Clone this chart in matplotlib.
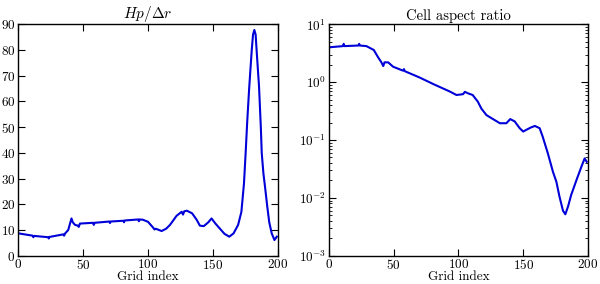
import numpy as np
import matplotlib
matplotlib.use("Agg")
import matplotlib.pyplot as plt

plt.rcParams["font.family"] = "cmr10"
plt.rcParams["mathtext.fontset"] = "cm"
plt.rcParams["axes.formatter.use_mathtext"] = True
plt.rcParams["font.size"] = 9.5

# Hp / dr versus grid index
hp_x = [0, 11, 11.6, 12.2, 23, 23.5, 24, 34.7, 35.3, 36, 38.5, 41, 42, 43.7, 46, 46.6, 47.5, 57.6,
        58.2, 58.8, 70.2, 70.7, 71.2, 81, 81.5, 82, 92.5, 93, 93.5, 96, 100, 104, 105, 106, 110.5,
        114, 117, 122, 126, 127, 128, 130, 134, 137.5, 140, 143, 146.5, 149, 152, 155.5, 159, 162.7,
        166, 169.5, 172, 174, 175.3, 176.5, 178, 180, 181, 182, 183, 184, 185.6, 187, 187.7, 189,
        190.2, 192, 193.5, 195.4, 197.5, 199.3]
hp_y = [8.7, 7.8, 7.2, 7.7, 7.2, 6.7, 7.3, 8.3, 7.8, 8.6, 10, 14.5, 13.0, 12.0, 11.7, 11.2, 12.5, 12.8,
        12.0, 12.8, 13.3, 12.7, 13.3, 13.6, 13.0, 13.7, 14.1, 13.4, 14.1, 14.0, 13.2, 10.9, 10.2, 10.5, 9.6,
        10.5, 12.0, 15.5, 17.1, 16.0, 17.3, 17.5, 16.5, 14.0, 11.7, 11.5, 13.0, 14.5, 12.5, 10.5, 8.5, 7.4,
        8.7, 12.0, 17.0, 28, 40, 52, 65, 80, 86, 87.8, 86, 78, 66, 50, 40, 32,
        27, 19, 13, 8.7, 6.1, 7.4]

# cell aspect ratio versus grid index
ar_x = [0, 11, 11.5, 12, 23, 23.4, 24, 29, 34.7, 38, 40.6, 42, 43, 45.8, 49.6, 57.3, 58, 58.6, 70.2,
        80.5, 93.3, 98.5, 103.6, 105, 107.5, 111, 115, 117.7, 121.6, 126.7, 132, 137, 140, 143.4, 147.3,
        150, 152.4, 156, 159, 162.7, 165, 169, 173, 175.6, 178, 180.7, 182.5, 184.6, 187, 191, 195,
        197.4, 199]
ar_y = [4.0, 4.2, 4.6, 4.2, 4.3, 4.6, 4.3, 4.2, 3.6, 2.7, 2.2, 1.9, 2.2, 2.2, 1.85, 1.58, 1.68, 1.55,
        1.2, 0.93, 0.69, 0.6, 0.62, 0.68, 0.64, 0.6, 0.46, 0.35, 0.27, 0.23, 0.195, 0.195, 0.23, 0.21,
        0.16, 0.14, 0.15, 0.165, 0.175, 0.16, 0.115, 0.059, 0.028, 0.019, 0.0105, 0.006, 0.0052, 0.0071,
        0.0112, 0.02, 0.035, 0.048, 0.042]

fig = plt.figure(figsize=(6, 2.84), dpi=100)
ax1 = fig.add_axes([0.0305, 0.0996, 0.4323, 0.8148])
ax2 = fig.add_axes([0.548, 0.0996, 0.432, 0.8148])

ax1.plot(hp_x, hp_y, color="#0000d8", lw=1.5)
ax1.set_xlim(0, 200)
ax1.set_ylim(0, 90)
ax1.set_yticks(range(0, 91, 10))
ax1.set_xticks(range(0, 201, 50))
ax1.set_title(r"$Hp/\Delta r$", fontsize=11, pad=3)
ax1.set_xlabel("Grid index", labelpad=-1)

ax2.semilogy(ar_x, ar_y, color="#0000d8", lw=1.5)
ax2.set_xlim(0, 200)
ax2.set_ylim(1e-3, 1e1)
ax2.set_xticks(range(0, 201, 50))
ax2.set_title("Cell aspect ratio", fontsize=10.5, pad=3)
ax2.set_xlabel("Grid index", labelpad=-1)

for ax in (ax1, ax2):
    ax.tick_params(direction="in", top=True, right=True, length=5, pad=2)
    ax.tick_params(which="minor", direction="in", top=True, right=True, length=2.5)
    for s in ax.spines.values():
        s.set_linewidth(1.0)

fig.savefig("out.png", dpi=100)
